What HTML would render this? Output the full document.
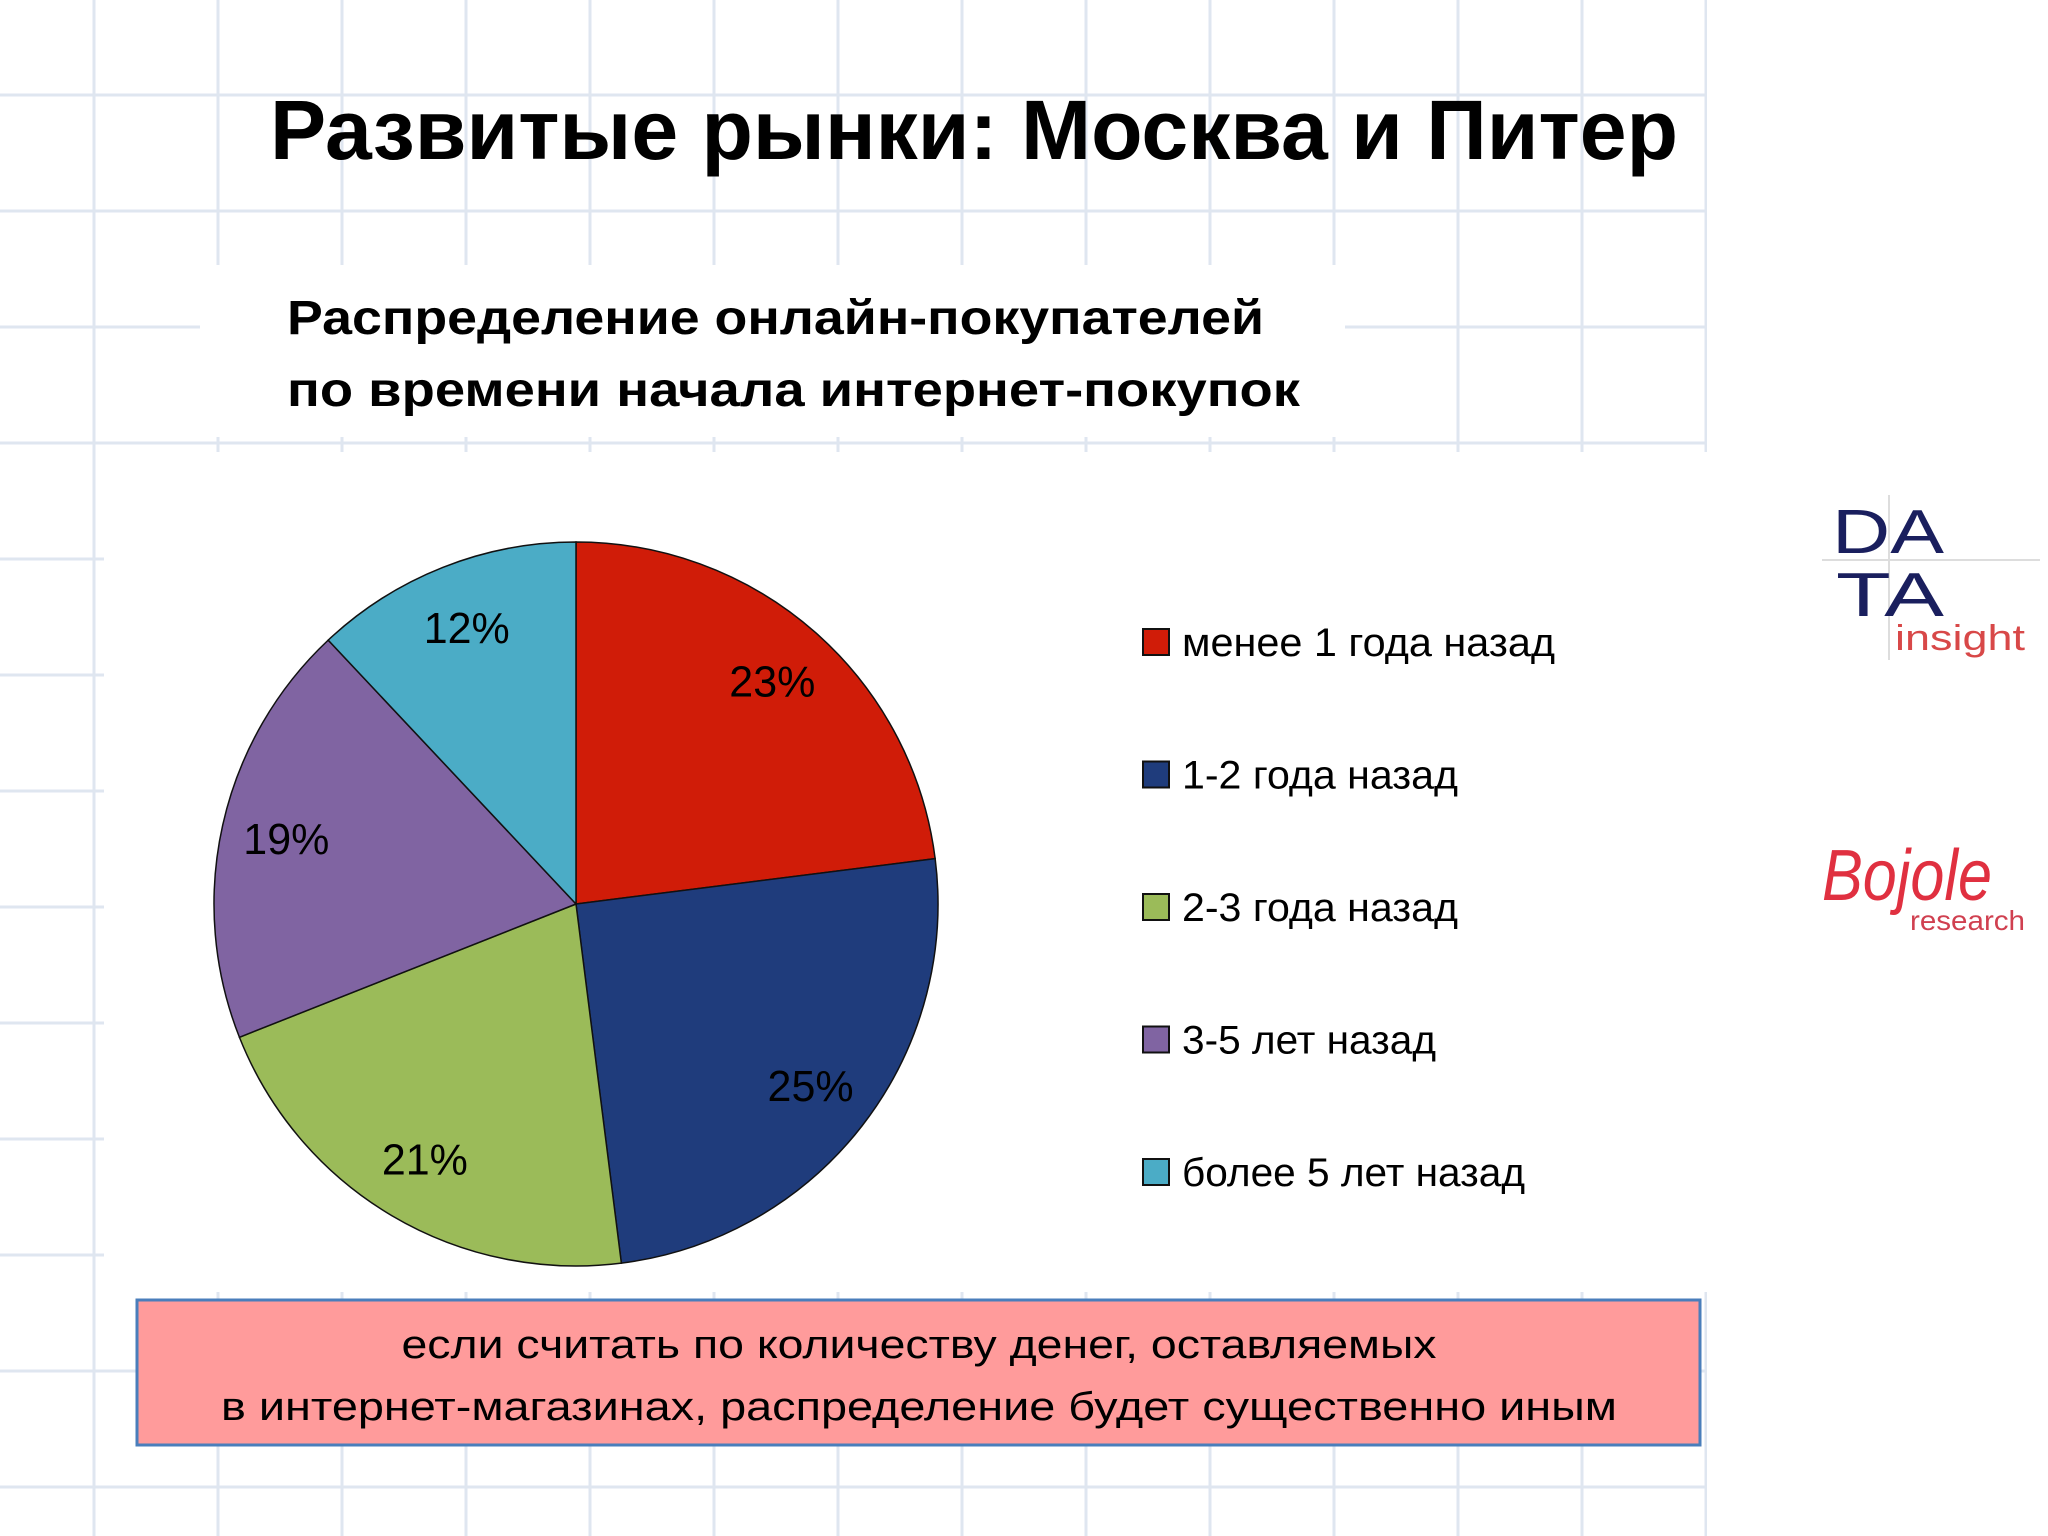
<!DOCTYPE html>
<html><head><meta charset="utf-8"><style>
html,body{margin:0;padding:0;background:#fff}
svg{display:block}
text{font-family:"Liberation Sans","DejaVu Sans",sans-serif}
</style></head><body>
<svg id="s" width="2048" height="1536" viewBox="0 0 2048 1536" xmlns="http://www.w3.org/2000/svg">
<g id="grid"></g>
<rect x="200" y="265" width="1145" height="172" fill="#fff"/>
<rect x="104" y="452" width="1603" height="840" fill="#fff"/>
<rect x="1707" y="0" width="341" height="1536" fill="#fff"/>
<text x="270" y="159" font-size="84" font-weight="bold" textLength="1408" lengthAdjust="spacingAndGlyphs">Развитые рынки: Москва и Питер</text>
<text x="287" y="334" font-size="48" font-weight="bold" textLength="977" lengthAdjust="spacingAndGlyphs">Распределение онлайн-покупателей</text>
<text x="287" y="406" font-size="48" font-weight="bold" textLength="1013" lengthAdjust="spacingAndGlyphs">по времени начала интернет-покупок</text>
<g id="pie"></g>
<g id="legend"></g>
<rect x="137" y="1300" width="1563" height="145" fill="#ff9b9b" stroke="#4a7ebb" stroke-width="3"/>
<text x="919" y="1358" font-size="40" text-anchor="middle" textLength="1035" lengthAdjust="spacingAndGlyphs">если считать по количеству денег, оставляемых</text>
<text x="919" y="1420" font-size="40" text-anchor="middle" textLength="1396" lengthAdjust="spacingAndGlyphs">в интернет-магазинах, распределение будет существенно иным</text>
<g>
<line x1="1822" y1="560" x2="2040" y2="560" stroke="#ddd" stroke-width="2"/>
<line x1="1889" y1="495" x2="1889" y2="660" stroke="#ddd" stroke-width="2"/>
<text x="1832" y="553" font-size="62" fill="#1a1f5e" textLength="112" lengthAdjust="spacingAndGlyphs">DA</text>
<text x="1836" y="616" font-size="62" fill="#1a1f5e" textLength="108" lengthAdjust="spacingAndGlyphs">TA</text>
<text x="1895" y="650" font-size="36" fill="#d84848" textLength="130" lengthAdjust="spacingAndGlyphs">insight</text>
</g>
<g>
<text x="1822" y="900" font-size="72" fill="#e03040" font-style="italic" font-family="Liberation Serif,serif" textLength="170" lengthAdjust="spacingAndGlyphs">Bojole</text>
<text x="1910" y="930" font-size="28" fill="#d04050" textLength="115" lengthAdjust="spacingAndGlyphs">research</text>
</g>
</svg>
<script>
const categories=["менее 1 года назад","1-2 года назад","2-3 года назад","3-5 лет назад","более 5 лет назад"];
const values=[23,25,21,19,12];
const labels=["23%","25%","21%","19%","12%"];
const colors=["#d01c08","#1f3c7c","#9bbb59","#8064a2","#4bacc6"];
const NS="http://www.w3.org/2000/svg";
function mk(t,a,p){const e=document.createElementNS(NS,t);for(const k in a)e.setAttribute(k,a[k]);p.appendChild(e);return e;}
// grid
const g=document.getElementById('grid');
for(let y=95;y<1536;y+=116){const l=mk('line',{x1:0,x2:1707,y1:y,y2:y,stroke:'#dfe6f0','stroke-width':3},g);}
for(let x=94;x<1707;x+=124){const l=mk('line',{x1:x,x2:x,y1:0,y2:1536,stroke:'#dfe6f0','stroke-width':3},g);}
// pie
const cx=576,cy=904,r=362;
const total=values.reduce((a,b)=>a+b,0);
const pie=document.getElementById('pie');
let a0=0;
function pt(a,rr){return [cx+rr*Math.sin(a),cy-rr*Math.cos(a)];}
values.forEach((v,i)=>{
 const a1=a0+v/total*2*Math.PI;
 const p0=pt(a0,r),p1=pt(a1,r);
 const d=`M${cx},${cy}L${p0[0]},${p0[1]}A${r},${r} 0 ${a1-a0>Math.PI?1:0} 1 ${p1[0]},${p1[1]}Z`;
 const s=mk('path',{d:d,fill:colors[i],stroke:'#111','stroke-width':1.5},pie);
 
 
 const m=(a0+a1)/2,lp=pt(m,r*0.82);
 const t=mk('text',{x:lp[0],y:lp[1]+15,'font-size':44,'text-anchor':'middle',fill:'#000',textLength:86,lengthAdjust:'spacingAndGlyphs'},pie);
 t.textContent=labels[i];
 
 
 a0=a1;
});
// legend
const legendLen=[373,276,276,254,343];
const lg=document.getElementById('legend');
categories.forEach((c,i)=>{
 const y=629+i*132.5;
 const s=mk('rect',{x:1143,y:y,width:26,height:26,fill:colors[i],stroke:'#111','stroke-width':2},lg);
 
 
 const t=mk('text',{x:1182,y:y+27,'font-size':40,fill:'#000',textLength:legendLen[i],lengthAdjust:'spacingAndGlyphs'},lg);
 t.textContent=c;
 
 
});
</script>
</body></html>
